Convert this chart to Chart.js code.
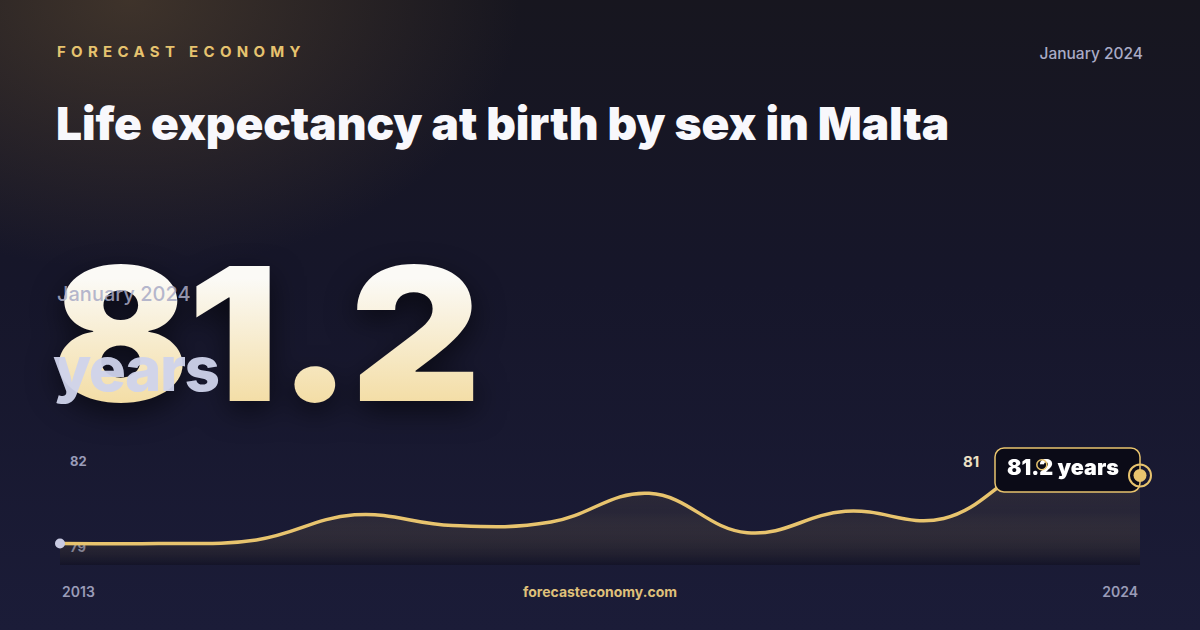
<!DOCTYPE html>
<html>
<head>
<meta charset="utf-8">
<script src="https://cdn.jsdelivr.net/npm/chart.js@4"></script>
<style>
  html, body { margin: 0; padding: 0; }
  body {
    width: 1200px; height: 630px; overflow: hidden; position: relative;
    font-family: Inter, "Noto Sans", sans-serif;
    background:
      radial-gradient(ellipse 520px 360px at 130px 0px, rgba(95,75,52,0.55), rgba(95,75,52,0) 75%),
      linear-gradient(180deg, #17161f 0%, #16162a 45%, #1b1c38 100%);
  }
  .abs { position: absolute; white-space: nowrap; }
  #brand { left: 57px; top: 42px; font-size: 15px; font-weight: 700; letter-spacing: 5.3px; color: #e6c36f; }
  #date { right: 57px; top: 44px; font-size: 15.5px; font-weight: 500; color: #a9abc6; }
  #title { left: 56px; top: 95px; font-size: 46px; font-weight: 900; letter-spacing: -0.1px; color: #f8f8fc; }
  #big {
    left: 52px; top: 241px; font-size: 186px; font-weight: 900; letter-spacing: -2px; line-height: 1;
    transform: scaleX(1.09); transform-origin: left top;
    background: linear-gradient(180deg, #fbfaf6 20%, #f3dca2 90%);
    -webkit-background-clip: text; background-clip: text; color: transparent;
    filter: drop-shadow(0 10px 14px rgba(0,0,0,0.55));
  }
  #bigdate { left: 57px; top: 282px; font-size: 20px; font-weight: 500; color: rgba(169,171,198,0.85); }
  #unit { left: 53px; top: 331px; font-size: 62px; font-weight: 800; letter-spacing: -1.5px; color: rgba(207,211,235,0.95); }
  .tick { font-size: 13px; font-weight: 700; color: #9a9cb8; }
  #t82 { left: 70px; top: 453px; }
  #t79 { left: 70px; top: 539px; }
  #t81 { left: 963px; top: 452px; font-size: 15px; color: #ece0c4; }
  .xl { top: 583px; font-size: 14px; font-weight: 600; color: #9a9cb8; }
  #x0 { left: 62px; }
  #x1 { right: 62px; }
  #site { left: 0; width: 1200px; text-align: center; top: 583px; font-size: 14px; font-weight: 700; color: #dfc07a; }
  #wrap { position: absolute; left: 50px; top: 440px; width: 1110px; height: 125px; }
</style>
</head>
<body>
<div class="abs" id="brand">FORECAST ECONOMY</div>
<div class="abs" id="date">January 2024</div>
<div class="abs" id="title">Life expectancy at birth by sex in Malta</div>
<div class="abs" id="big">81.2</div>
<div class="abs" id="bigdate">January 2024</div>
<div class="abs" id="unit">years</div>
<div class="abs tick" id="t82">82</div>
<div class="abs tick" id="t79">79</div>
<div class="abs tick" id="t81">81</div>
<div class="abs xl" id="x0">2013</div>
<div class="abs xl" id="x1">2024</div>
<div class="abs" id="site">forecasteconomy.com</div>
<div id="wrap"><canvas id="mycanvas"></canvas></div>
<script>
var years = ['2013', '2014', '2015', '2016', '2017', '2018', '2019', '2020', '2021', '2022', '2023', '2024'];
var lifeExp = [79.3, 79.3, 79.4, 80.1, 79.8, 79.9, 80.7, 79.6, 80.2, 80.0, 81.5, 81.2];
var yMin = 78.7;
var yMax = 82.05;
var calloutText = '81.2 years';

var gold = '#e8c46e';

// box over the last stretch + point markers
var markers = {
	id: 'markers',
	afterDatasetsDraw: function(chart) {
		var ctx = chart.ctx;
		var area = chart.chartArea;
		var pts = chart.getDatasetMeta(0).data;
		var first = pts[0], prev = pts[pts.length - 2], last = pts[pts.length - 1];

		ctx.save();
		// start dot
		ctx.fillStyle = '#c9cbe2';
		ctx.beginPath(); ctx.arc(first.x, first.y, 5, 0, Math.PI * 2); ctx.fill();

		// callout box, ends on the last point
		var bw = 145, bh = 44;
		var bx = last.x - bw, by = area.top + 3;
		ctx.fillStyle = '#0b0b17';
		ctx.strokeStyle = gold;
		ctx.lineWidth = 1.5;
		ctx.beginPath(); ctx.roundRect(bx, by, bw, bh, 9); ctx.fill(); ctx.stroke();
		ctx.fillStyle = '#ffffff';
		ctx.font = '900 21.5px Inter';
		ctx.textBaseline = 'middle';
		ctx.fillText(calloutText, bx + 12, by + 21);

		// previous point ring
		ctx.strokeStyle = gold;
		ctx.lineWidth = 1.5;
		ctx.beginPath(); ctx.arc(prev.x, prev.y, 5, 0, Math.PI * 2); ctx.stroke();

		// last point
		ctx.lineWidth = 2;
		ctx.beginPath(); ctx.arc(last.x, last.y, 11, 0, Math.PI * 2); ctx.stroke();
		ctx.fillStyle = gold;
		ctx.beginPath(); ctx.arc(last.x, last.y, 6.5, 0, Math.PI * 2); ctx.fill();
		ctx.restore();
	}
};

var ctx = document.getElementById('mycanvas');

var lineChart = new Chart(ctx, {
	type: 'line',
	data: {
		labels: years,
		datasets: [
			{
				data: lifeExp,
				borderColor: gold,
				borderWidth: 3.5,
				tension: 0.4,
				pointRadius: 0,
				fill: 'start',
				clip: false,
				backgroundColor: function(c) {
					var area = c.chart.chartArea;
					if (!area) return 'rgba(0,0,0,0)';
					var g = c.chart.ctx.createLinearGradient(0, area.top, 0, area.bottom);
					g.addColorStop(0, 'rgba(232,196,110,0.16)');
					g.addColorStop(0.55, 'rgba(232,196,110,0.07)');
					g.addColorStop(1, 'rgba(8,8,18,0.35)');
					return g;
				}
			}
		]
	},
	options: {
		responsive: true,
		maintainAspectRatio: false,
		animation: false,
		layout: { padding: { left: 10, right: 20, top: 5, bottom: 0 } },
		plugins: { legend: { display: false }, tooltip: { enabled: false } },
		scales: {
			x: { display: false },
			y: { display: false, min: yMin, max: yMax }
		}
	},
	plugins: [markers]
});
</script>
</body>
</html>
